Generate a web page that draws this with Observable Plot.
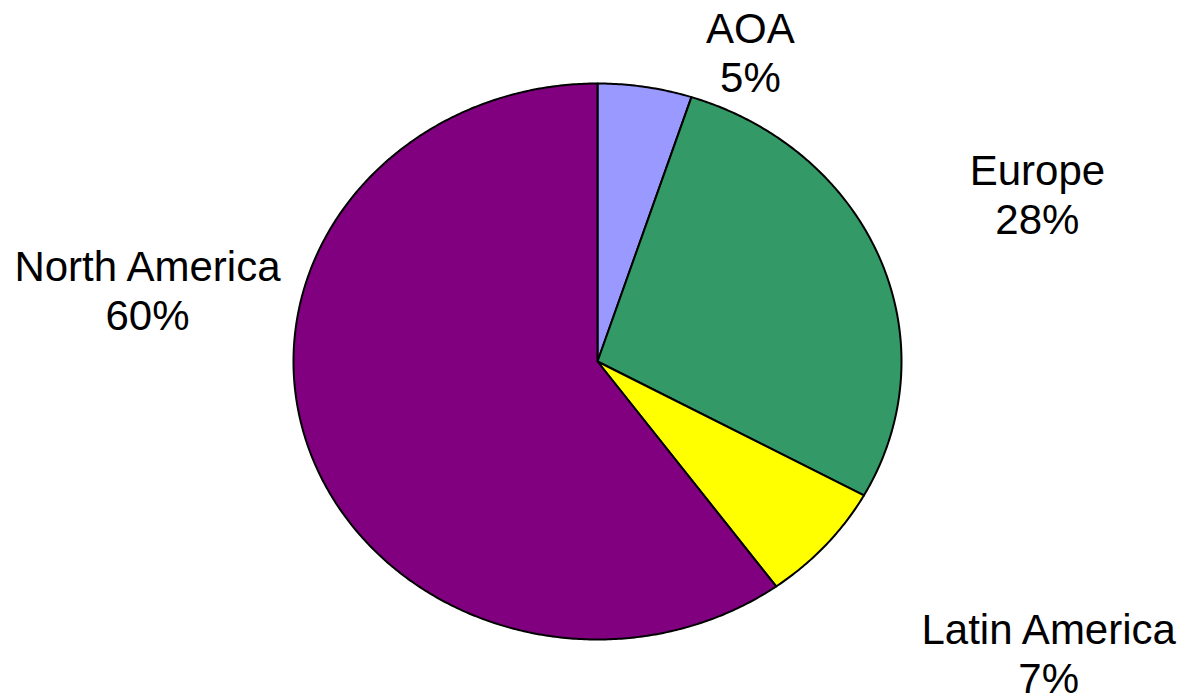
<!DOCTYPE html>
<html>
<head>
<meta charset="utf-8">
<script src="https://cdn.jsdelivr.net/npm/d3@7"></script>
<script src="https://cdn.jsdelivr.net/npm/@observablehq/plot@0.6"></script>
<style>
  html, body { margin: 0; padding: 0; background: #fff; }
  #chart svg { display: block; }
</style>
</head>
<body>
<div id="chart"></div>
<script>
// Data
const regions = ["AOA", "Europe", "Latin America", "North America"];
const shares = [5, 28, 7, 60];
const colors = ["#9999FF", "#339966", "#FFFF00", "#800080"];

// Label placement (angle clockwise from 12 o'clock in degrees, distance in radius units)
const labelAngle = [24.5, 67.7, 125.5, 279.5];
const labelDist = [1.213, 1.564, 1.823, 1.501];

const total = d3.sum(shares);
let cum = 0;
const slices = regions.map((name, i) => {
  const a0 = cum / total * 2 * Math.PI;
  cum += shares[i];
  const a1 = cum / total * 2 * Math.PI;
  const pts = [{x: 0, y: 0}];
  const n = Math.max(2, Math.ceil((a1 - a0) / (Math.PI / 360)));
  for (let k = 0; k <= n; k++) {
    const a = a0 + (a1 - a0) * k / n;
    pts.push({x: Math.sin(a), y: Math.cos(a)});
  }
  pts.push({x: 0, y: 0});
  return {name, color: colors[i], pts};
});

const labels = regions.map((name, i) => {
  const a = labelAngle[i] * Math.PI / 180;
  return {
    text: `${name}\n${shares[i]}%`,
    x: labelDist[i] * Math.sin(a),
    y: labelDist[i] * Math.cos(a)
  };
});

const chart = Plot.plot({
  width: 1179,
  height: 695,
  margin: 0,
  style: {background: "white", fontFamily: "'Liberation Sans', Arial, sans-serif"},
  x: {domain: [-1, 1], range: [293, 901], axis: null},
  y: {domain: [-1, 1], range: [639, 83], axis: null},
  marks: [
    ...slices.map(s => Plot.line(s.pts, {
      x: "x", y: "y",
      fill: s.color,
      stroke: "black",
      strokeWidth: 2,
      strokeLinejoin: "round",
      curve: "linear"
    })),
    Plot.text(labels, {
      x: "x", y: "y", text: "text",
      fontSize: 42,
      lineHeight: 1.17,
      dy: -3,
      fill: "black",
      textAnchor: "middle"
    })
  ]
});
document.getElementById("chart").appendChild(chart);
</script>
</body>
</html>
